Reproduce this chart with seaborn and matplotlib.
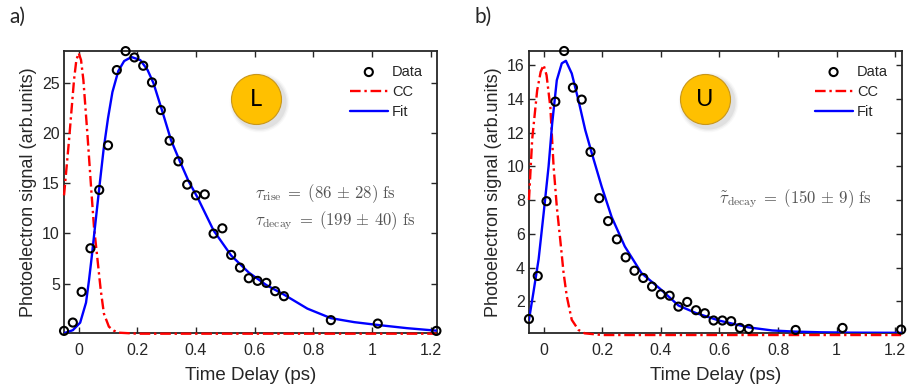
import numpy as np
import pandas as pd
import matplotlib
matplotlib.use('Agg')
import matplotlib.pyplot as plt
import matplotlib.transforms as mtransforms
import seaborn as sns

## measured delays (ps), same grid for both panels
t_data = [-0.05, -0.02, 0.01, 0.04, 0.07, 0.10, 0.13, 0.16, 0.19, 0.22, 0.25, 0.28, 0.31,
          0.34, 0.37, 0.40, 0.43, 0.46, 0.49, 0.52, 0.55, 0.58, 0.61, 0.64, 0.67, 0.70,
          0.86, 1.02, 1.22]

## panel a) - L
sig_L = [0.28, 1.11, 4.17, 8.52, 14.34, 18.79, 26.3, 28.19, 27.56, 26.73, 25.07, 22.31, 19.25,
         17.19, 14.87, 13.80, 13.90, 9.98, 10.51, 7.86, 6.59, 5.53, 5.27, 5.07, 4.24, 3.74,
         1.35, 1.01, 0.28]
fit_t_L = [-0.05, -0.02, 0.005, 0.025, 0.035, 0.045, 0.058, 0.07, 0.085, 0.10, 0.115, 0.135,
           0.155, 0.18, 0.21, 0.235, 0.255, 0.285, 0.315, 0.345, 0.375, 0.405, 0.46, 0.52,
           0.58, 0.64, 0.70, 0.78, 0.86, 0.94, 1.02, 1.12, 1.22]
fit_L = [0.05, 0.35, 1.1, 3.1, 5.3, 7.8, 11.3, 14.5, 18.4, 21.5, 24.1, 26.2,
         27.2, 27.6, 27.3, 26.3, 25.0, 22.2, 19.3, 17.2, 15.2, 13.6, 10.3, 7.8,
         6.1, 4.85, 3.9, 2.5, 1.55, 1.15, 0.87, 0.55, 0.3]
cc_t_L = [-0.05, -0.033, -0.016, -0.008, 0.0, 0.008, 0.016, 0.03, 0.043, 0.052, 0.063, 0.075,
          0.086, 0.103, 0.12, 0.137, 0.2, 1.22]
cc_L = [13.8, 19.3, 25.3, 27.3, 28.0, 27.3, 25.3, 19.8, 14.3, 10.7, 7.7, 4.4,
        2.0, 0.7, 0.3, 0.1, 0.0, 0.0]

## panel b) - U
sig_U = [0.95, 3.50, 7.93, 13.83, 16.83, 14.66, 13.95, 10.85, 8.11, 6.75, 5.67, 4.60, 3.81,
         3.38, 2.87, 2.41, 2.33, 1.68, 1.96, 1.47, 1.29, 0.86, 0.86, 0.82, 0.42, 0.36,
         0.30, 0.42, 0.32]
fit_t_U = [-0.05, -0.035, -0.017, 0.0, 0.017, 0.029, 0.045, 0.062, 0.076, 0.096, 0.119, 0.142,
           0.164, 0.198, 0.232, 0.277, 0.334, 0.40, 0.46, 0.52, 0.60, 0.70, 0.78, 0.86, 0.95,
           1.05, 1.22]
fit_U = [0.9, 2.5, 4.5, 7.2, 10.0, 12.5, 15.1, 16.1, 16.25, 15.5, 13.9, 12.15,
         10.8, 8.8, 7.0, 5.25, 3.67, 2.7, 1.75, 1.3, 0.85, 0.45, 0.27, 0.2, 0.16,
         0.14, 0.13]
cc_t_U = [-0.05, -0.039, -0.022, -0.01, 0.0, 0.01, 0.023, 0.034, 0.045, 0.057, 0.068, 0.079,
          0.096, 0.119, 0.14, 0.2, 1.22]
cc_U = [8.0, 11.6, 14.5, 15.6, 16.0, 15.4, 13.5, 10.0, 7.6, 5.6, 3.7, 2.3,
        0.9, 0.3, 0.1, 0.0, 0.0]

sns.set_style('ticks')
plt.rcParams['font.family'] = ['Liberation Sans', 'DejaVu Sans']
plt.rcParams['mathtext.fontset'] = 'cm'

txt_color = '#262626'
badge_color = '#FFC000'


def draw_panel(fig, ax, sig, fit_t, fit, cc_t, cc, ylim, yticks, badge_xy, badge_txt):
    df = pd.DataFrame({'t': t_data, 'sig': sig})
    sns.scatterplot(data=df, x='t', y='sig', ax=ax, marker='o', s=34, facecolor='none',
                    edgecolor='black', linewidth=1.5, label='Data', zorder=5, clip_on=False)
    sns.lineplot(x=cc_t, y=cc, ax=ax, color='#FF0000', lw=1.7, label='CC',
                 linestyle=(0, (4.5, 1.6, 1, 1.6)), zorder=3, clip_on=False)
    sns.lineplot(x=fit_t, y=fit, ax=ax, color='#0000FF', lw=1.7, label='Fit', zorder=4)

    ax.set_xlim(-0.05, 1.222)
    ax.set_ylim(*ylim)
    ax.set_xticks([0, 0.2, 0.4, 0.6, 0.8, 1, 1.2])
    ax.set_xticklabels(['0', '0.2', '0.4', '0.6', '0.8', '1', '1.2'])
    ax.set_yticks(yticks)
    ax.tick_params(direction='in', top=True, right=True, length=4, width=1,
                   labelsize=11.5, colors=txt_color, pad=7)
    ax.tick_params(axis='y', pad=3)
    for sp in ax.spines.values():
        sp.set_visible(True)
        sp.set_linewidth(1.3)
        sp.set_color(txt_color)

    ax.set_xlabel('Time Delay (ps)', fontsize=13.5, color=txt_color)
    ax.set_ylabel('Photoelectron signal (arb.units)', fontsize=13, color=txt_color)
    ax.xaxis.set_label_coords(0.5, -0.122)
    ax.yaxis.set_label_coords(-0.072, 0.5)

    leg = ax.legend(loc='upper right', frameon=False, fontsize=10.5, handlelength=2.6,
                    handletextpad=0.3, labelspacing=0.42, borderaxespad=0.55)
    for t in leg.get_texts():
        t.set_color(txt_color)

    # badge with a soft shadow to the lower right
    for k, a in zip([7, 5, 3], [0.05, 0.08, 0.12]):
        shadow = mtransforms.offset_copy(ax.transData, fig=fig, x=3, y=-3, units='dots')
        ax.scatter([badge_xy[0]], [badge_xy[1]], s=(36 + k) ** 2, color='gray', alpha=a,
                   linewidths=0, zorder=6, transform=shadow)
    ax.scatter([badge_xy[0]], [badge_xy[1]], s=36 ** 2, color=badge_color,
               edgecolor='#C8961A', linewidths=0.8, zorder=7)
    ax.text(badge_xy[0], badge_xy[1], badge_txt, ha='center', va='center', fontsize=17,
            family='Lato', color='black', zorder=8)


fig = plt.figure(figsize=(9.07, 3.85), dpi=100)
ax1 = fig.add_axes([0.0706, 0.1351, 0.4112, 0.7324])
ax2 = fig.add_axes([0.5832, 0.1351, 0.4110, 0.7324])

draw_panel(fig, ax1, sig_L, fit_t_L, fit_L, cc_t_L, cc_L, (0.07, 28.2), [5, 10, 15, 20, 25],
           (0.605, 23.37), 'L')
draw_panel(fig, ax2, sig_U, fit_t_U, fit_U, cc_t_U, cc_U, (0.12, 16.83),
           [2, 4, 6, 8, 10, 12, 14, 16], (0.551, 13.97), 'U')

ann_color = '#555555'
ax1.text(0.60, 13.98, r'$\tau_{\rm rise}\;=\;(86\,\pm\,28)\ {\rm fs}$', fontsize=12,
         color=ann_color, ha='left', va='center')
ax1.text(0.60, 11.24, r'$\tau_{\rm decay}\;=\;(199\,\pm\,40)\ {\rm fs}$', fontsize=12,
         color=ann_color, ha='left', va='center')
ax2.text(0.60, 8.07, r'$\tilde{\tau}_{\rm decay}\;=\;(150\,\pm\,9)\ {\rm fs}$', fontsize=12,
         color=ann_color, ha='left', va='center')

fig.text(0.010, 0.955, 'a)', fontsize=15, family='Lato', va='center', ha='left')
fig.text(0.523, 0.955, 'b)', fontsize=15, family='Lato', va='center', ha='left')

fig.savefig('out.png', dpi=100)
